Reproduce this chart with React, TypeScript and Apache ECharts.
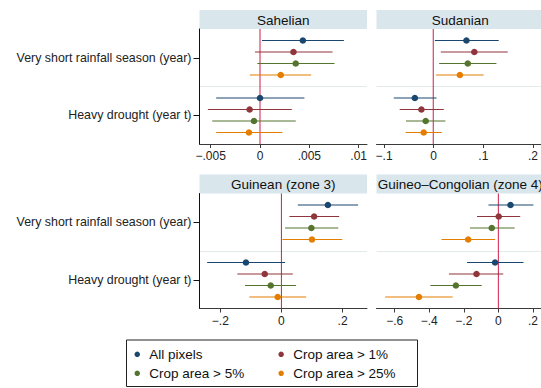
import React, { useEffect, useRef } from "react";
import * as echarts from "echarts";

// ---------- data ----------
const groups = ["Very short rainfall season (year)", "Heavy drought (year t)"];
const seriesNames = ["All pixels", "Crop area > 1%", "Crop area > 5%", "Crop area > 25%"];
const panelTitles = ["Sahelian", "Sudanian", "Guinean (zone 3)", "Guineo–Congolian (zone 4)"];

// order: [group1: s0..s3, group2: s0..s3]
const sahelianEst = [0.00434, 0.00339, 0.00362, 0.0021, 0.0, -0.00105, -0.00061, -0.00112];
const sahelianLo = [0.0002, -0.00051, -0.00027, -0.00102, -0.00444, -0.00528, -0.00484, -0.00444];
const sahelianHi = [0.0085, 0.00735, 0.00755, 0.00518, 0.0045, 0.00322, 0.00362, 0.00227];

const sudanianEst = [0.0673, 0.0833, 0.07, 0.054, -0.0373, -0.024, -0.0153, -0.0193];
const sudanianLo = [0.0033, 0.0153, 0.012, 0.0053, -0.08, -0.068, -0.0553, -0.056];
const sudanianHi = [0.1327, 0.151, 0.128, 0.102, 0.0067, 0.0213, 0.0247, 0.0173];

const guineanEst = [0.152, 0.107, 0.098, 0.1, -0.116, -0.0546, -0.035, -0.012];
const guineanLo = [0.0536, 0.0262, 0.012, 0.0033, -0.243, -0.1443, -0.119, -0.105];
const guineanHi = [0.251, 0.189, 0.186, 0.199, 0.012, 0.0372, 0.048, 0.081];

const congolianEst = [0.07, 0.002, -0.038, -0.174, -0.019, -0.126, -0.245, -0.458];
const congolianLo = [-0.057, -0.123, -0.164, -0.328, -0.181, -0.285, -0.392, -0.653];
const congolianHi = [0.202, 0.126, 0.094, -0.019, 0.145, 0.028, -0.096, -0.264];

const panelEst = [sahelianEst, sudanianEst, guineanEst, congolianEst];
const panelLo = [sahelianLo, sudanianLo, guineanLo, congolianLo];
const panelHi = [sahelianHi, sudanianHi, guineanHi, congolianHi];

// axis ranges and tick labels
const axisMin = [-0.00613, -0.115, -0.268, -0.703];
const axisMax = [0.01084, 0.2184, 0.28, 0.246];
const tickMin = [-0.005, -0.1, -0.2, -0.6];
const tickMax = [0.01, 0.2, 0.2, 0.2];
const tickStep = [0.005, 0.1, 0.2, 0.2];

// ---------- styles / layout ----------
const colors = ["#1a476f", "#90353b", "#55752f", "#e37e00"];
const rowOffsets = [-0.3, -0.1, 0.1, 0.3];
const FONT = "Liberation Sans, Arial, Helvetica, sans-serif";
const colLeft = [199.5, 376.5];
const plotW = 167.5;
const rowTop = [29, 193.5];
const plotH = 115;
const headerH = 19;

const fmt = (v: number) => {
  if (Math.abs(v) < 1e-12) return "0";
  const s = String(+Math.abs(v).toFixed(6)).replace(/^0\./, ".");
  return (v < 0 ? "−" : "") + s;
};

function buildOption() {
  const mainGrids: any[] = [];
  const tickGrids: any[] = [];
  const xAxis: any[] = [];
  const yAxis: any[] = [];
  const series: any[] = [];
  const graphic: any[] = [];

  for (let p = 0; p < 4; p++) {
    const col = p % 2;
    const row = Math.floor(p / 2);
    const L = colLeft[col];
    const T = rowTop[row];
    mainGrids.push({ left: L, top: T, width: plotW, height: plotH, containLabel: false });
    xAxis.push({
      gridIndex: p,
      type: "value",
      min: axisMin[p],
      max: axisMax[p],
      axisLine: { show: true, onZero: false, lineStyle: { color: "#3a3a3a", width: 1 } },
      axisTick: { show: false },
      axisLabel: { show: false },
      splitLine: { show: false },
    });
    yAxis.push({
      gridIndex: p,
      type: "category",
      data: groups,
      inverse: true,
      boundaryGap: true,
      axisLine: { show: col === 0, onZero: false, lineStyle: { color: "#111", width: 1 } },
      axisTick: { show: col === 0, alignWithLabel: true, length: 6, lineStyle: { color: "#111" } },
      axisLabel: { show: col === 0, fontSize: 12.4, color: "#222", margin: 8, fontFamily: FONT },
      splitLine: {
        show: true,
        showMinLine: false,
        showMaxLine: false,
        lineStyle: { color: "#e2eaec", width: 1 },
      },
    });

    // zero reference line
    series.push({
      type: "custom",
      xAxisIndex: p,
      yAxisIndex: p,
      z: 1,
      silent: true,
      data: [[0, 0]],
      encode: { x: 0, y: 1 },
      renderItem: (params: any, api: any) => {
        const c = api.coord([api.value(0), 0]);
        const cs = params.coordSys;
        return {
          type: "line",
          shape: { x1: c[0], y1: cs.y, x2: c[0], y2: cs.y + cs.height },
          style: { stroke: "#cc1f48", lineWidth: 1 },
        };
      },
    });

    for (let s = 0; s < 4; s++) {
      const data: number[][] = [];
      for (let g = 0; g < 2; g++) {
        const i = g * 4 + s;
        data.push([panelEst[p][i], panelLo[p][i], panelHi[p][i], g]);
      }
      const color = colors[s];
      const off = rowOffsets[s];
      series.push({
        type: "custom",
        name: seriesNames[s],
        xAxisIndex: p,
        yAxisIndex: p,
        z: 2,
        itemStyle: { color },
        data,
        encode: { x: [0, 1, 2], y: 3 },
        renderItem: (params: any, api: any) => {
          const cat = api.value(3);
          const c = api.coord([api.value(0), cat]);
          const a = api.coord([api.value(1), cat]);
          const b = api.coord([api.value(2), cat]);
          const band = api.size([0, 1])[1];
          const y = c[1] + off * band;
          return {
            type: "group",
            children: [
              {
                type: "line",
                shape: { x1: a[0], y1: y, x2: b[0], y2: y },
                style: { stroke: color, lineWidth: 1.2 },
              },
              { type: "circle", shape: { cx: c[0], cy: y, r: 3.3 }, style: { fill: color } },
            ],
          };
        },
      });
    }

    // tick grid aligned with the main grid's scale
    const span = axisMax[p] - axisMin[p];
    const tl = L + ((tickMin[p] - axisMin[p]) / span) * plotW;
    const tw = ((tickMax[p] - tickMin[p]) / span) * plotW;
    tickGrids.push({ left: tl, top: T, width: tw, height: plotH, containLabel: false });

    // header strip
    graphic.push({
      type: "rect",
      shape: { x: L, y: T - headerH, width: plotW, height: headerH },
      style: { fill: "#d9e6eb" },
      silent: true,
    });
    graphic.push({
      type: "text",
      x: L + plotW / 2,
      y: T - headerH / 2 + 0.5,
      style: {
        text: panelTitles[p],
        fontSize: 13.5,
        fontFamily: FONT,
        fill: "#111",
        textAlign: "center",
        textVerticalAlign: "middle",
        align: "center",
        verticalAlign: "middle",
      },
      silent: true,
    });
  }

  for (let p = 0; p < 4; p++) {
    xAxis.push({
      gridIndex: 4 + p,
      type: "value",
      min: tickMin[p],
      max: tickMax[p],
      interval: tickStep[p],
      axisLine: { show: false, onZero: false },
      axisTick: { show: true, length: 4, lineStyle: { color: "#3a3a3a" } },
      axisLabel: {
        show: true,
        fontSize: 12,
        color: "#222",
        margin: 6,
        fontFamily: FONT,
        formatter: (v: number) => fmt(v),
      },
      splitLine: { show: false },
    });
    yAxis.push({ gridIndex: 4 + p, type: "value", show: false });
  }

  // legend
  const legendCols = [134.5, 278.4];
  const legendRows = [346.3, 365.3];
  const legend = seriesNames.map((name, i) => ({
    data: [name],
    left: legendCols[i % 2],
    top: legendRows[Math.floor(i / 2)],
    orient: "horizontal",
    padding: 0,
    icon: "circle",
    itemWidth: 14,
    itemHeight: 5.5,
    selectedMode: false,
    textStyle: { fontSize: 13.5, color: "#111", fontFamily: FONT, lineHeight: 16 },
  }));
  graphic.push({
    type: "rect",
    shape: { x: 126.5, y: 340, width: 291, height: 46.5 },
    style: { fill: "none", stroke: "#222", lineWidth: 1 },
    silent: true,
  });

  return {
    animation: false,
    backgroundColor: "#ffffff",
    textStyle: { fontFamily: FONT },
    grid: [...mainGrids, ...tickGrids],
    xAxis,
    yAxis,
    series,
    legend,
    graphic,
  };
}

export default function App() {
  const ref = useRef<HTMLDivElement>(null);
  useEffect(() => {
    if (!ref.current) return;
    const chart = echarts.init(ref.current, undefined, { renderer: "svg" });
    chart.setOption(buildOption() as any);
    return () => chart.dispose();
  }, []);
  return (
    <div
      ref={ref}
      style={{ position: "fixed", left: 0, top: 0, width: 541, height: 388, background: "#fff" }}
    />
  );
}
